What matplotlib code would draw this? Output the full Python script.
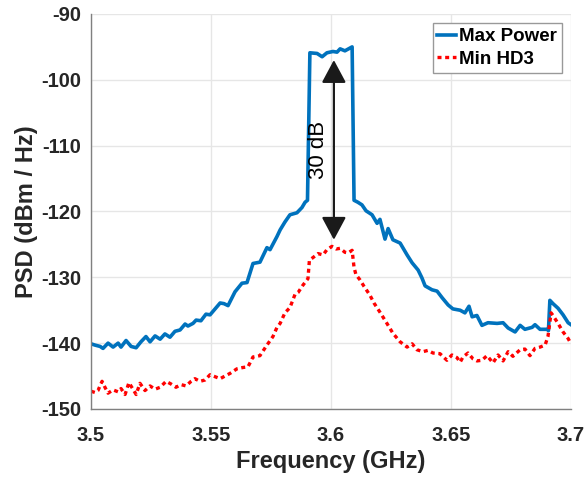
import matplotlib
matplotlib.use("Agg")
import matplotlib.pyplot as plt
from matplotlib.patches import FancyArrowPatch

plt.rcParams["font.family"] = ["Liberation Sans", "DejaVu Sans"]
plt.rcParams["axes.unicode_minus"] = False

# Max Power trace (GHz, dBm/Hz)
max_freq = [
    3.5000, 3.5017, 3.5038, 3.5050, 3.5071, 3.5092, 3.5113, 3.5125, 3.5146,
    3.5167, 3.5188, 3.5208, 3.5229, 3.5246, 3.5267, 3.5288, 3.5308, 3.5329,
    3.5350, 3.5371, 3.5392, 3.5404, 3.5425, 3.5438, 3.5458, 3.5479, 3.5496,
    3.5517, 3.5538, 3.5554, 3.5571, 3.5600, 3.5629, 3.5650, 3.5675, 3.5704,
    3.5733, 3.5746, 3.5775, 3.5788, 3.5808, 3.5829, 3.5858, 3.5879, 3.5892,
    3.5902, 3.5912, 3.5942, 3.5963, 3.5983, 3.6008, 3.6025, 3.6038, 3.6058,
    3.6088, 3.6096, 3.6112, 3.6129, 3.6146, 3.6171, 3.6192, 3.6204, 3.6225,
    3.6238, 3.6258, 3.6288, 3.6317, 3.6338, 3.6363, 3.6379, 3.6392, 3.6421,
    3.6442, 3.6463, 3.6488, 3.6508, 3.6538, 3.6558, 3.6575, 3.6588, 3.6608,
    3.6629, 3.6654, 3.6692, 3.6717, 3.6738, 3.6767, 3.6788, 3.6808, 3.6838,
    3.6850, 3.6871, 3.6900, 3.6906, 3.6912, 3.6925, 3.6946, 3.6967, 3.6988,
    3.7000,
]
max_psd = [
    -140.1, -140.3, -140.5, -140.8, -140.0, -140.6, -140.0, -140.6, -139.6,
    -140.5, -140.7, -139.8, -139.0, -139.8, -138.9, -139.4, -138.6, -139.1,
    -138.2, -138.0, -137.1, -137.4, -137.0, -136.5, -136.6, -135.6, -135.7,
    -134.8, -133.9, -134.0, -134.3, -132.2, -130.9, -130.8, -127.9, -127.7,
    -125.5, -125.8, -123.8, -122.8, -121.6, -120.5, -120.2, -119.4, -118.6,
    -118.3, -95.9, -96.0, -96.5, -95.9, -95.7, -95.8, -95.3, -95.6,
    -95.0, -118.3, -118.6, -119.0, -119.9, -120.5, -121.8, -121.2, -124.2,
    -122.6, -124.3, -124.8, -126.6, -127.8, -128.9, -130.1, -131.3, -131.9,
    -132.1, -133.1, -134.2, -134.8, -135.0, -135.4, -134.4, -136.0, -135.8,
    -137.3, -136.9, -137.0, -136.9, -137.7, -138.3, -137.3, -137.9, -137.6,
    -137.2, -137.9, -137.9, -138.1, -133.5, -134.0, -134.7, -135.7, -136.9,
    -137.2,
]

# Min HD3 trace (GHz, dBm/Hz)
min_freq = [
    3.5000, 3.5017, 3.5029, 3.5046, 3.5058, 3.5071, 3.5092, 3.5113, 3.5125,
    3.5142, 3.5158, 3.5175, 3.5188, 3.5204, 3.5225, 3.5246, 3.5267, 3.5288,
    3.5313, 3.5333, 3.5354, 3.5375, 3.5396, 3.5417, 3.5433, 3.5454, 3.5475,
    3.5496, 3.5517, 3.5538, 3.5558, 3.5579, 3.5608, 3.5633, 3.5654, 3.5675,
    3.5704, 3.5733, 3.5758, 3.5775, 3.5788, 3.5808, 3.5829, 3.5850, 3.5863,
    3.5883, 3.5904, 3.5910, 3.5925, 3.5946, 3.5967, 3.5983, 3.6004, 3.6021,
    3.6038, 3.6058, 3.6071, 3.6088, 3.6096, 3.6104, 3.6121, 3.6138, 3.6162,
    3.6179, 3.6204, 3.6233, 3.6258, 3.6288, 3.6317, 3.6338, 3.6358, 3.6383,
    3.6404, 3.6425, 3.6454, 3.6483, 3.6504, 3.6525, 3.6538, 3.6550, 3.6571,
    3.6592, 3.6608, 3.6629, 3.6650, 3.6675, 3.6696, 3.6717, 3.6738, 3.6758,
    3.6788, 3.6808, 3.6829, 3.6850, 3.6871, 3.6892, 3.6904, 3.6917, 3.6925,
    3.6946, 3.6967, 3.6988, 3.7000,
]
min_psd = [
    -147.3, -147.5, -147.2, -145.8, -146.7, -147.6, -147.1, -147.4, -146.9,
    -147.8, -146.0, -147.0, -147.8, -146.1, -147.2, -146.5, -147.0, -146.7,
    -145.8, -146.2, -146.7, -146.3, -146.5, -145.8, -145.4, -145.8, -145.6,
    -144.8, -145.1, -145.4, -145.0, -144.6, -143.9, -143.7, -143.6, -142.1,
    -141.9, -140.3, -139.0, -137.6, -137.0, -135.4, -134.6, -132.6, -132.3,
    -131.2, -130.2, -127.4, -127.0, -126.4, -126.6, -125.8, -125.3, -125.7,
    -125.6, -126.2, -126.3, -125.9, -128.5, -129.6, -130.4, -131.4, -132.7,
    -133.9, -135.3, -137.0, -138.5, -139.8, -140.6, -140.1, -141.0, -141.3,
    -141.1, -141.5, -141.6, -142.6, -141.8, -142.2, -142.9, -142.1, -141.5,
    -142.4, -142.7, -142.6, -141.9, -143.0, -141.8, -142.7, -141.3, -142.0,
    -141.0, -140.9, -141.9, -140.8, -140.6, -140.3, -139.0, -135.4, -135.8,
    -137.0, -138.3, -139.3, -140.1,
]

x_ticks = [3.5, 3.55, 3.6, 3.65, 3.7]
x_tick_labels = ["3.5", "3.55", "3.6", "3.65", "3.7"]
y_ticks = [-150, -140, -130, -120, -110, -100, -90]

# 30 dB marker between the two peaks
arrow_freq = 3.6012
arrow_top = -97.0
arrow_bottom = -124.3

fig = plt.figure(figsize=(5.86, 4.78), dpi=100)
ax = fig.add_axes([0.1553, 0.1444, 0.8191, 0.8264])

ax.plot(max_freq, max_psd, color="#0072BD", lw=2.6, label="Max Power",
        solid_joinstyle="round")
ax.plot(min_freq, min_psd, color="#FF0000", lw=2.4, label="Min HD3",
        dashes=(1.2, 1.1))

arrow = FancyArrowPatch(
    (arrow_freq, arrow_top), (arrow_freq, arrow_bottom),
    arrowstyle="<|-|>,head_length=14,head_width=7.5",
    mutation_scale=1, color="#1a1a1a", lw=1.6,
    shrinkA=0, shrinkB=0,
)
ax.add_patch(arrow)
ax.text(3.5948, -110.6, "30 dB", rotation=90, ha="center", va="center",
        fontsize=16, color="black")

ax.set_xlim(3.5, 3.7)
ax.set_ylim(-150, -90)
ax.set_xticks(x_ticks)
ax.set_xticklabels(x_tick_labels)
ax.set_yticks(y_ticks)

ax.grid(True, color="#e6e6e6", lw=1.0)
ax.set_axisbelow(True)
for side in ["top", "right"]:
    ax.spines[side].set_visible(False)
for side in ["left", "bottom"]:
    ax.spines[side].set_color("#808080")
    ax.spines[side].set_linewidth(1.0)

ax.tick_params(axis="both", direction="in", length=0, labelsize=14.5,
               labelcolor="#262626")
ax.tick_params(axis="y", pad=7)
ax.tick_params(axis="x", pad=12)
for lab in ax.get_xticklabels() + ax.get_yticklabels():
    lab.set_fontweight("bold")

ax.set_xlabel("Frequency (GHz)", fontsize=17, fontweight="bold",
              color="#262626", labelpad=4)
ax.set_ylabel("PSD (dBm / Hz)", fontsize=17, fontweight="bold",
              color="#262626", labelpad=2)

leg = ax.legend(loc="upper right", fontsize=13.5, frameon=True, fancybox=False,
                handlelength=1.0, handletextpad=0.15, labelspacing=0.3,
                borderpad=0.25, borderaxespad=0.5, edgecolor="#999999",
                framealpha=1)
leg.get_frame().set_linewidth(1.0)
for t in leg.get_texts():
    t.set_fontweight("bold")

fig.savefig("out.png", dpi=100)
